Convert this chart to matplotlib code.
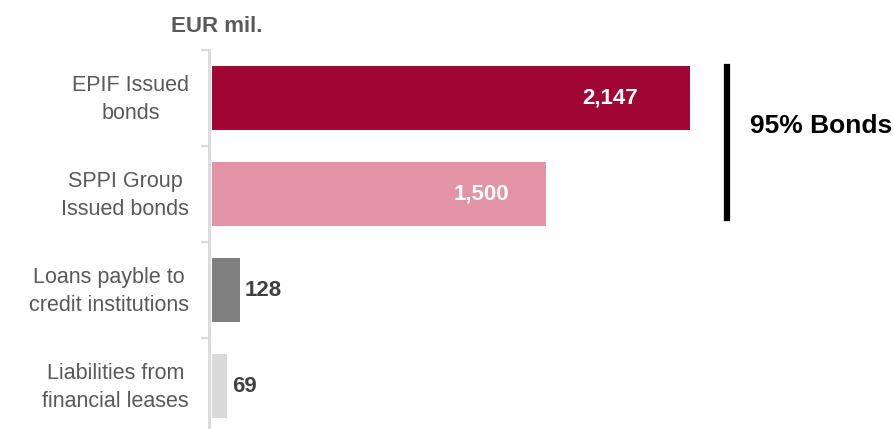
import matplotlib.pyplot as plt
import matplotlib.transforms as mtransforms

plt.rcParams['font.family'] = ['Liberation Sans', 'DejaVu Sans']

# categories and values (EUR mil.)
categories = ["EPIF Issued\nbonds", "SPPI Group\nIssued bonds",
              "Loans payble to\ncredit institutions", "Liabilities from\nfinancial leases"]
values = [2147, 1500, 128, 69]
value_labels = ["2,147", "1,500", "128", "69"]
colors = ["#a00633", "#e393a6", "#808080", "#d9d9d9"]

fig = plt.figure(figsize=(8.94, 4.29), dpi=100)
ax = fig.add_axes([209 / 894, -5 / 429, 685 / 894, 384 / 429])

y = list(range(len(categories)))
ax.barh(y, values, height=0.66, color=colors, left=12)
ax.set_xlim(0, 3077)
ax.set_ylim(3.5, -0.5)

# value labels: inside for the big bars, outside for the small ones
inside_offsets = [-52, -36]  # pixels from bar end
for i, (v, lab) in enumerate(zip(values, value_labels)):
    if v > 1000:
        ax.annotate(lab, (v + 12, i), xytext=(inside_offsets[i] * 0.72, 0),
                    textcoords='offset points', ha='right', va='center',
                    color='white', fontsize=16, fontweight='bold')
    else:
        ax.annotate(lab, (v + 12, i), xytext=(3.5, 0), textcoords='offset points',
                    ha='left', va='center', color='#404040',
                    fontsize=16, fontweight='bold')

ax.set_yticks(y)
ax.set_yticklabels(categories, fontsize=15.5, color='#595959', linespacing=1.4,
                   multialignment='center')
ax.tick_params(axis='y', which='major', length=0, pad=14.5)
# nudge the category labels up a little
shift = mtransforms.ScaledTranslation(0, 3 / 72, fig.dpi_scale_trans)
for t in ax.get_yticklabels():
    t.set_transform(t.get_transform() + shift)
ax.set_yticks([-0.5, 0.5, 1.5, 2.5], minor=True)
ax.tick_params(axis='y', which='minor', length=6, width=1.5, color='#d9d9d9')
ax.set_xticks([])
for s in ['top', 'right', 'bottom']:
    ax.spines[s].set_visible(False)
ax.spines['left'].set_color('#d9d9d9')
ax.spines['left'].set_linewidth(2)

fig.text(217 / 894, 1 - 27 / 429, "EUR mil.", ha='center', va='center',
         fontsize=16, fontweight='bold', color='#595959')

# bracket for bonds
fig.add_artist(plt.Line2D([727 / 894, 727 / 894], [1 - 67 / 429, 1 - 218 / 429],
                          color='black', linewidth=4.5))
fig.text(750 / 894, 1 - 126 / 429, "95% Bonds", ha='left', va='center',
         fontsize=19, fontweight='bold', color='black')

fig.savefig("out.png", dpi=100)
